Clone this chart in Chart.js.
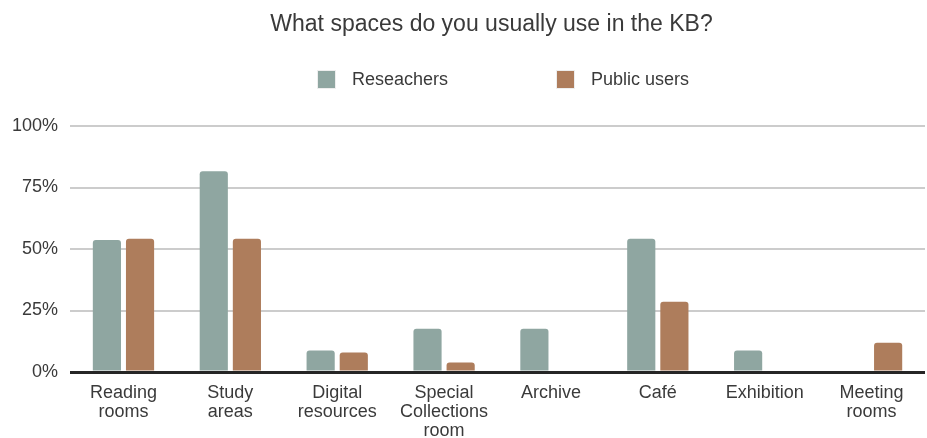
<!DOCTYPE html>
<html>
<head>
<meta charset="utf-8">
<script src="https://cdn.jsdelivr.net/npm/chart.js@4"></script>
<style>
  body { margin: 0; background: #fff; font-family: "Liberation Sans", Arial, sans-serif; }
  #wrap { position: relative; width: 927px; height: 438px; }
  #title { position: absolute; top: 10px; left: 0; width: 983px; text-align: center; font-size: 23px; color: #3a3a3a; }
  #legend { position: absolute; top: 68px; left: 317px; font-size: 18px; color: #3a3a3a; }
  .item { position: absolute; top: 0; white-space: nowrap; }
  .box { position: absolute; top: 2px; left: 0; width: 17px; height: 17px; border: 1px solid #eee; box-sizing: content-box; }
  .item span { position: absolute; left: 35px; top: 0; line-height: 22px; }
</style>
</head>
<body>
<div id="wrap">
  <div id="title">What spaces do you usually use in the KB?</div>
  <div id="legend"></div>
  <canvas id="chart" width="927" height="438"></canvas>
</div>
<script>
// Kategorien (x-Achse)
let categories = [
  ['Reading', 'rooms'],
  ['Study', 'areas'],
  ['Digital', 'resources'],
  ['Special', 'Collections', 'room'],
  'Archive',
  'Café',
  'Exhibition',
  ['Meeting', 'rooms']
];
// Werte in Prozent
let researchers = [53.7, 81.6, 8.7, 17.6, 17.6, 54.2, 8.7, 0];
let publicUsers = [54.2, 54.2, 7.9, 3.9, 0, 28.6, 0, 11.9];
let seriesNames = ['Reseachers', 'Public users'];
let yTicks = [0, 25, 50, 75, 100];

let colors = ['#8fa6a1', '#ae7d5c'];

// Legende als HTML
let legendLeft = [0, 239];
let legend = document.getElementById('legend');
seriesNames.forEach((name, i) => {
  let item = document.createElement('div');
  item.className = 'item';
  item.style.left = legendLeft[i] + 'px';
  item.innerHTML = '<div class="box" style="background:' + colors[i] + '"></div><span>' + name + '</span>';
  legend.appendChild(item);
});

let config = {
  type: 'bar',
  data: {
    labels: categories,
    datasets: [
      { label: seriesNames[0], data: researchers, backgroundColor: colors[0], borderRadius: 3, categoryPercentage: 0.62, barPercentage: 0.85 },
      { label: seriesNames[1], data: publicUsers, backgroundColor: colors[1], borderRadius: 3, categoryPercentage: 0.62, barPercentage: 0.85 }
    ]
  },
  options: {
    responsive: false,
    animation: false,
    layout: { padding: { top: 126, left: 0, right: 2, bottom: 0 } },
    plugins: { legend: { display: false }, title: { display: false }, tooltip: { enabled: false } },
    scales: {
      x: {
        afterFit: axis => { axis.height = 66; },
        grid: { display: false, drawTicks: false },
        border: { display: false },
        ticks: { color: '#3a3a3a', font: { size: 18, family: 'Liberation Sans', lineHeight: 1.05 }, maxRotation: 0, autoSkip: false, padding: 12 }
      },
      y: {
        min: 0,
        max: 100,
        afterBuildTicks: axis => { axis.ticks = yTicks.map(v => ({ value: v })); },
        border: { display: false },
        grid: {
          drawTicks: false,
          color: ctx => ctx.tick.value === 0 ? '#262626' : '#cccccc',
          lineWidth: ctx => ctx.tick.value === 0 ? 3 : 2
        },
        ticks: { color: '#3a3a3a', font: { size: 18, family: 'Liberation Sans' }, padding: 12, callback: v => v + '%' }
      }
    }
  }
};

let ctx = document.getElementById('chart').getContext('2d');
let chart = new Chart(ctx, config);
</script>
</body>
</html>
